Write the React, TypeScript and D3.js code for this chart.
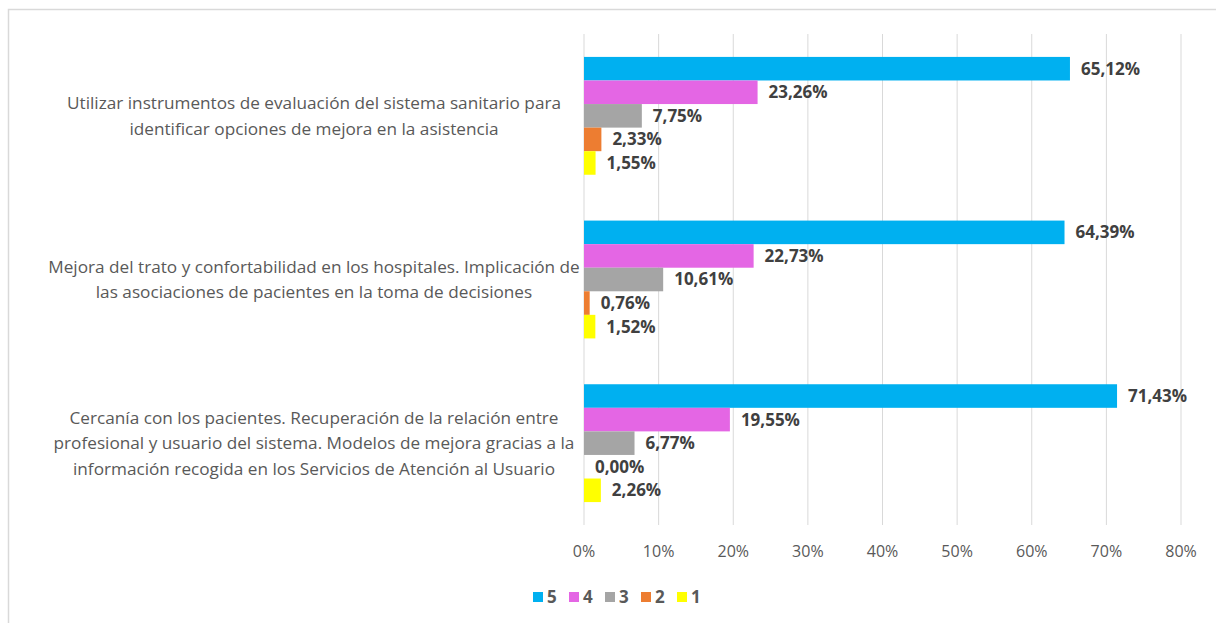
import React from "react";
import * as d3 from "d3";

const categories: string[][] = [
  ["Utilizar instrumentos de evaluación del sistema sanitario para", "identificar opciones de mejora en la asistencia"],
  ["Mejora del trato y confortabilidad en los hospitales. Implicación de", "las asociaciones de pacientes en la toma de decisiones"],
  ["Cercanía con los pacientes. Recuperación de la relación entre", "profesional y usuario del sistema. Modelos de mejora gracias a la", "información recogida en los Servicios de Atención al Usuario"],
];
const seriesNames = ["5", "4", "3", "2", "1"];
const seriesColors = ["#00b0f0", "#e466e4", "#a5a5a5", "#ed7d31", "#ffff00"];
const values5 = [65.12, 64.39, 71.43];
const values4 = [23.26, 22.73, 19.55];
const values3 = [7.75, 10.61, 6.77];
const values2 = [2.33, 0.76, 0.0];
const values1 = [1.55, 1.52, 2.26];
const seriesValues = [values5, values4, values3, values2, values1];
const xTicks = [0, 10, 20, 30, 40, 50, 60, 70, 80];

const W = 1216, H = 623;
const plot = { left: 584, right: 1181, top: 34, bottom: 525 };
const FONT = "'Open Sans', Roboto, sans-serif";

export default function App() {
  const x = d3.scaleLinear().domain([0, 80]).range([plot.left, plot.right]);
  const y = d3.scaleBand<number>().domain([0, 1, 2]).range([plot.top, plot.bottom]).paddingInner(0.28).paddingOuter(0.14);
  const inner = d3.scaleBand<number>().domain([0, 1, 2, 3, 4]).range([0, y.bandwidth()]);
  const fmt = (v: number) => v.toFixed(2).replace(".", ",") + "%";
  const legendX = [533, 569, 605, 641, 677];

  return (
    <svg width={W} height={H} style={{ position: "absolute", left: 0, top: 0, background: "#fff" }} fontFamily={FONT}>
      <rect x={8.5} y={9.5} width={W + 10} height={H + 10} fill="#fff" stroke="#d9d9d9" strokeWidth={1.5} />
      {xTicks.map((t) => (
        <line key={t} x1={x(t)} x2={x(t)} y1={plot.top} y2={plot.bottom} stroke="#d9d9d9" strokeWidth={1} />
      ))}
      {xTicks.map((t) => (
        <text key={"l" + t} x={x(t)} y={551} dy="0.35em" textAnchor="middle" fontSize={16} fill="#595959">{t + "%"}</text>
      ))}
      {categories.map((lines, ci) => {
        const cy = (y(ci) as number) + y.bandwidth() / 2;
        const lh = 25.5;
        const start = cy - ((lines.length - 1) * lh) / 2;
        return (
          <text key={"c" + ci} x={314} textAnchor="middle" fontSize={17.2} fill="#595959">
            {lines.map((ln, li) => (
              <tspan key={li} x={314} y={start + li * lh} dy="0.35em">{ln}</tspan>
            ))}
          </text>
        );
      })}
      {seriesValues.map((vals, si) =>
        vals.map((v, ci) => {
          const by = (y(ci) as number) + (inner(si) as number);
          return (
            <g key={si + "-" + ci}>
              <rect x={x(0)} y={by} width={x(v) - x(0)} height={inner.bandwidth()} fill={seriesColors[si]} />
              <text x={x(v) + 11} y={by + inner.bandwidth() / 2} dy="0.35em" fontSize={17} fontWeight="bold" fill="#404040">{fmt(v)}</text>
            </g>
          );
        })
      )}
      {seriesNames.map((n, i) => (
        <g key={"lg" + n}>
          <rect x={legendX[i]} y={592} width={10} height={10} fill={seriesColors[i]} />
          <text x={legendX[i] + 14} y={597} dy="0.35em" fontSize={17} fontWeight="bold" fill="#595959">{n}</text>
        </g>
      ))}
    </svg>
  );
}
